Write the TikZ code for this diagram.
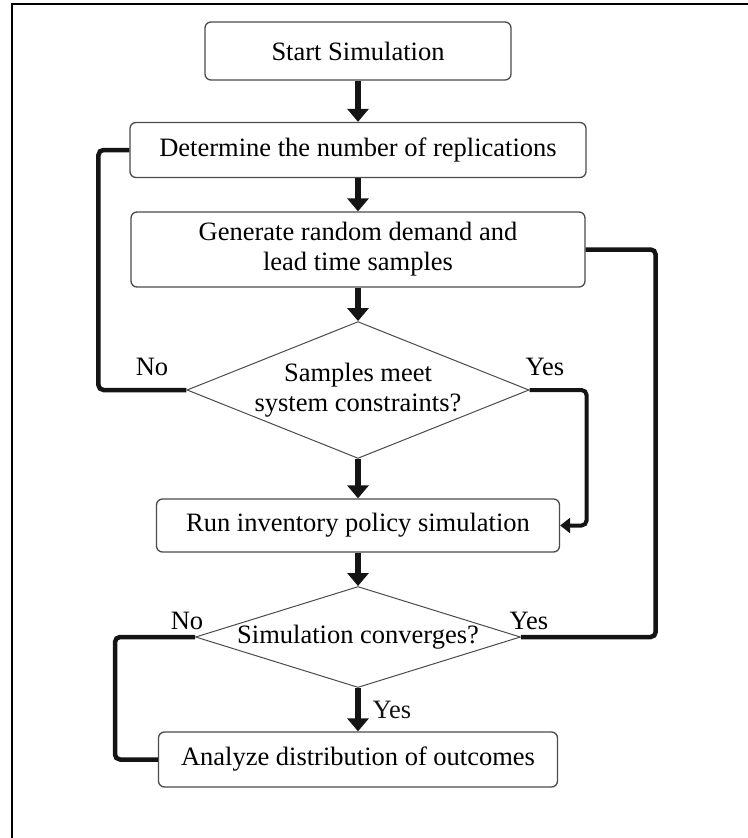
\documentclass[tikz,border=0pt]{standalone}
\usepackage{fontspec}
\setmainfont{Liberation Serif}
\usepackage{xcolor}
\usepackage{tikz}
\usetikzlibrary{arrows.meta,shapes.geometric}
\definecolor{BordeCaja}{RGB}{75,75,75}
\definecolor{LineaFlujo}{RGB}{20,20,20}
\newcommand{\textoFlujo}{\fontsize{26.5}{30}\selectfont}

\begin{document}
\begin{tikzpicture}[x=1pt,y=-1pt,>=Latex,
  caja/.style={draw=BordeCaja,line width=1.3pt,rounded corners=6pt,fill=white,inner sep=0pt,font=\textoFlujo,align=center},
  rombo/.style={diamond,draw=BordeCaja,line width=1pt,inner sep=0pt,font=\textoFlujo,align=center},
  flecha/.style={-{Triangle[width=21pt,length=13pt]},line width=6.5pt,LineaFlujo},
  lazo/.style={line width=4.5pt,LineaFlujo,rounded corners=5pt},
  etiqueta/.style={font=\textoFlujo}]
  \useasboundingbox (0,0) rectangle (747,838);
  \draw[line width=1.5pt] (12,840) -- (12,4) -- (749,4);

  % pasos del proceso
  \node[caja,minimum width=306pt,minimum height=58pt] (inicio) at (358,51) {Start Simulation};
  \node[caja,minimum width=456pt,minimum height=55pt] (replicas) at (358,150) {Determine the number of replications};
  \node[caja,minimum width=454pt,minimum height=75pt] (muestras) at (358,249.5) {Generate random demand and\\lead time samples};
  \node[rombo,shape aspect=2.5,minimum width=341pt,minimum height=134pt] (restric) at (358,390) {Samples meet\\system constraints?};
  \node[caja,minimum width=403pt,minimum height=53pt] (corrida) at (358,525.5) {Run inventory policy simulation};
  \node[rombo,shape aspect=3.2,minimum width=325pt,minimum height=101pt] (converge) at (358,637) {Simulation converges?};
  \node[caja,minimum width=399pt,minimum height=55pt] (analisis) at (358,759.5) {Analyze distribution of outcomes};

  % flujo principal
  \draw[flecha] (inicio) -- (replicas);
  \draw[flecha] (replicas) -- (muestras);
  \draw[flecha] (muestras) -- (restric);
  \draw[flecha] (restric) -- (corrida);
  \draw[flecha] (corrida) -- (converge);
  \draw[flecha] (converge) -- node[etiqueta,right=8pt] (si3) {Yes} (analisis);

  % lazos de retorno
  \draw[lazo] (restric.west) -- ++(-88,0) |- (replicas.west);
  \draw[lazo,-{Triangle[width=15pt,length=10pt]},line width=4pt] (restric.east) -- ++(57,0) |- (corrida.east);
  \draw[lazo] (muestras.east) -- ++(70,0) |- (converge.east);
  \draw[lazo] (converge.west) -- ++(-80,0) |- (analisis.west);

  \node[etiqueta] (no1) at (152,367) {No};
  \node[etiqueta] (si1) at (545,367) {Yes};
  \node[etiqueta] (no2) at (187,621) {No};
  \node[etiqueta] (si2) at (529,621) {Yes};
\end{tikzpicture}
\end{document}
